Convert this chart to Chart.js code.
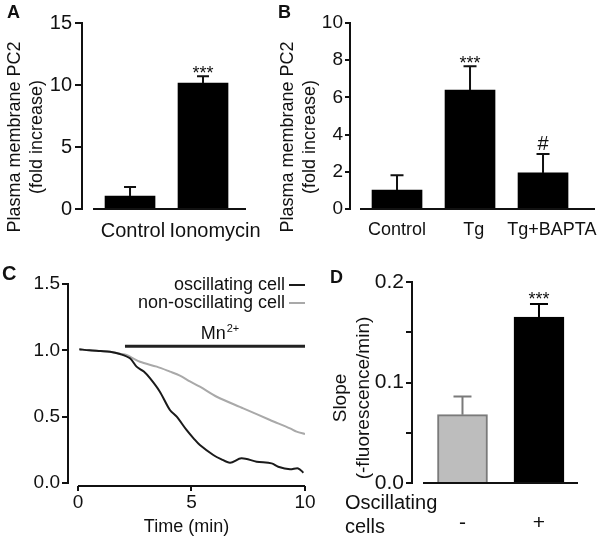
<!DOCTYPE html>
<html>
<head>
<meta charset="utf-8">
<script src="https://cdn.jsdelivr.net/npm/chart.js@4.4.1/dist/chart.umd.min.js"></script>
<style>
  html, body { margin: 0; padding: 0; background: #fff; }
  #fig { position: relative; width: 600px; height: 538px; overflow: hidden; }
  #fig canvas { position: absolute; }
</style>
</head>
<body>
<div id="fig">
  <canvas id="chartB" width="350" height="260" style="left:250px;top:0"></canvas>
  <canvas id="chartA" width="264" height="260" style="left:0;top:0"></canvas>
  <canvas id="chartC" width="330" height="278" style="left:0;top:260px"></canvas>
  <canvas id="chartD" width="270" height="278" style="left:330px;top:260px"></canvas>
</div>
<script>
// ---- valeurs ----

// A : ionomycine
const aCategories = ['Control', 'Ionomycin'];
const aValues = [1.05, 10.15];
const aErrors = [0.72, 0.55];
const aMarks = ['', '***'];
const aTicks = [0, 5, 10, 15];

// B : thapsigargine
const bCategories = ['Control', 'Tg', 'Tg+BAPTA'];
const bValues = [1.02, 6.4, 1.94];
const bErrors = [0.8, 1.28, 1.02];
const bMarks = ['', '***', '#'];
const bTicks = [0, 2, 4, 6, 8, 10];

// C : Fura-2 quench (Mn2+)
const cOscTime = [0.06, 0.5, 1.0, 1.41, 1.85, 2.29, 2.58, 2.9, 3.17, 3.6, 4.05, 4.35, 4.78, 5.1, 5.37, 5.96, 6.3, 6.7, 7.2, 7.87, 8.53, 8.82, 9.34, 9.7, 9.93];
const cOscValues = [1.008, 1.0, 0.995, 0.99, 0.972, 0.94, 0.877, 0.84, 0.79, 0.69, 0.55, 0.5, 0.4, 0.335, 0.286, 0.211, 0.18, 0.153, 0.186, 0.161, 0.148, 0.123, 0.103, 0.11, 0.078];
const cNonTime = [0.06, 0.5, 1.0, 1.41, 1.85, 2.14, 2.73, 3.47, 4.05, 4.49, 4.93, 5.37, 6.11, 7.28, 8.46, 9.34, 9.63, 10];
const cNonValues = [1.008, 1.0, 0.995, 0.99, 0.975, 0.965, 0.914, 0.877, 0.84, 0.81, 0.766, 0.726, 0.65, 0.563, 0.475, 0.412, 0.387, 0.369];
const cTicksX = [0, 5, 10];
const cTicksY = [0, 0.5, 1.0, 1.5];
const mnPeriod = [2.07, 10];   // barre Mn2+ (min)
const mnLevel = 1.03;

// D : pente
const dCategories = ['-', '+'];
const dValues = [0.068, 0.165];
const dErrors = [0.018, 0.013];
const dMarks = ['', '***'];
const dTicks = [0, 0.05, 0.1, 0.15, 0.2];

// ---- style ----
const FONT = "'Liberation Sans', Arial, Helvetica, sans-serif";
const INK = '#111';
Chart.defaults.font.family = FONT;
Chart.defaults.color = INK;

/** Dessine les éléments "Prism" : axes décalés, barres d'erreur, lettres, titres */
function figurePlugin( cfg ) {
    return {
        id: 'figure' + cfg.letter.text,

        afterDatasetsDraw( chart ) {
            if ( !cfg.errors ) return
            const ctx = chart.ctx
            const y = chart.scales.y
            const meta = chart.getDatasetMeta( 0 )
            cfg.errors.values.forEach( ( v, i ) => {
                const bar = meta.data[ i ]
                const tip = y.getPixelForValue( v + cfg.errors.sd[ i ] )
                ctx.save()
                ctx.strokeStyle = cfg.errors.colors ? cfg.errors.colors[ i ] : INK
                ctx.lineWidth = 2
                ctx.beginPath()
                ctx.moveTo( bar.x, bar.y )
                ctx.lineTo( bar.x, tip )
                ctx.moveTo( bar.x - cfg.errors.cap / 2, tip )
                ctx.lineTo( bar.x + cfg.errors.cap / 2, tip )
                ctx.stroke()
                const mark = cfg.errors.marks[ i ]
                if ( mark ) {
                    const m = cfg.errors.markFont[ mark ] || cfg.errors.markFont.def
                    ctx.font = m.size + 'px ' + FONT
                    ctx.fillStyle = INK
                    ctx.textAlign = 'center'
                    ctx.textBaseline = 'alphabetic'
                    const tm = ctx.measureText( mark )
                    ctx.fillText( mark, bar.x, tip - m.gap - tm.actualBoundingBoxDescent )
                }
                ctx.restore()
            } )
        },

        afterDraw( chart ) {
            const { ctx, chartArea } = chart
            const x = chart.scales.x, y = chart.scales.y
            ctx.save()
            // axes
            ctx.strokeStyle = INK
            ctx.lineWidth = 2
            ctx.beginPath()
            ctx.moveTo( chartArea.left, y.getPixelForValue( cfg.axis.y[ 0 ] ) + 1 )
            ctx.lineTo( chartArea.left, y.getPixelForValue( cfg.axis.y[ 1 ] ) - 1 )
            ctx.moveTo( x.getPixelForValue( cfg.axis.x[ 0 ] ), chartArea.bottom )
            ctx.lineTo( x.getPixelForValue( cfg.axis.x[ 1 ] ), chartArea.bottom )
            ctx.stroke()

            // lettre du panneau
            ctx.fillStyle = INK
            ctx.textAlign = 'left'
            ctx.textBaseline = 'alphabetic'
            ctx.font = 'bold ' + cfg.letter.size + 'px ' + FONT
            ctx.fillText( cfg.letter.text, cfg.letter.x, cfg.letter.y )

            // titre de l'axe y (vertical, 1 ou 2 lignes)
            ctx.font = cfg.yTitle.size + 'px ' + FONT
            ctx.textAlign = 'center'
            ctx.textBaseline = 'middle'
            cfg.yTitle.lines.forEach( ( line, i ) => {
                ctx.save()
                ctx.translate( cfg.yTitle.xs[ i ], cfg.yTitle.y )
                ctx.rotate( -Math.PI / 2 )
                ctx.fillText( line, 0, 0 )
                ctx.restore()
            } )

            // textes libres
            if ( cfg.texts ) {
                cfg.texts.forEach( t => {
                    ctx.font = t.size + 'px ' + FONT
                    ctx.textAlign = t.align || 'left'
                    ctx.textBaseline = 'alphabetic'
                    ctx.fillText( t.text, t.x, t.y )
                } )
            }
            if ( cfg.extra ) cfg.extra( chart, ctx )
            ctx.restore()
        }
    }
}

/** Options communes d'un histogramme */
function barOptions( p ) {
    const shift = p.labelShift || p.categories.map( () => 0 )
    return {
        responsive: false,
        animation: false,
        events: [],
        layout: { padding: { top: p.top, right: p.right, left: 0, bottom: 0 } },
        plugins: { legend: { display: false }, tooltip: { enabled: false } },
        scales: {
            x: {
                type: 'linear',
                bounds: 'data',
                offset: false,
                min: p.xMin,
                max: p.xMax,
                // une étiquette par catégorie (légèrement décalée comme sur l'original)
                afterBuildTicks: s => { s.ticks = p.categories.map( ( c, i ) => ( { value: i + shift[ i ] } ) ) },
                afterFit: s => { s.height = p.xHeight; s.paddingLeft = 0; s.paddingRight = 0 },
                grid: { display: false, drawTicks: false, offset: false },
                border: { display: false },
                ticks: {
                    autoSkip: false,
                    maxRotation: 0,
                    padding: p.xPad,
                    font: { size: p.xFont },
                    callback: ( v, i ) => p.categories[ i ] ?? ''
                }
            },
            y: {
                min: p.yTicks[ 0 ],
                max: p.yTicks[ p.yTicks.length - 1 ],
                afterBuildTicks: s => { s.ticks = p.yTicks.map( v => ( { value: v } ) ) },
                afterFit: s => { s.width = p.yWidth },
                grid: { drawOnChartArea: false, drawTicks: true, tickLength: p.tick, color: INK, lineWidth: 2 },
                border: { display: false },
                ticks: { padding: p.yPad, font: { size: p.yFont }, callback: p.yLabel || ( v => String( v ) ) }
            }
        }
    }
}

// ---------- A ----------
new Chart( document.getElementById( 'chartA' ), {
    type: 'bar',
    data: {
        datasets: [ {
            data: aValues.map( ( v, i ) => ( { x: i, y: v } ) ),
            backgroundColor: '#000', borderColor: '#000', borderWidth: 0, barThickness: 50
        } ]
    },
    options: barOptions( {
        top: 23, right: 18, xMin: -0.658, xMax: 1.589, categories: aCategories,
        labelShift: [ 0.04, 0.165 ],
        xHeight: 51, xPad: 10, xFont: 20,
        yTicks: aTicks, yWidth: 82, tick: 7, yPad: 3, yFont: 20
    } ),
    plugins: [ figurePlugin( {
        letter: { text: 'A', x: 7, y: 18, size: 18 },
        yTitle: { lines: [ 'Plasma membrane PC2', '(fold increase)' ], xs: [ 15, 37 ], y: 137, size: 18 },
        axis: { x: [ -0.507, 1.589 ], y: [ 0, 15 ] },
        errors: { values: aValues, sd: aErrors, marks: aMarks, cap: 12, markFont: { def: { size: 18, gap: 3 } } }
    } ) ]
} );

// ---------- B ----------
new Chart( document.getElementById( 'chartB' ), {
    type: 'bar',
    data: {
        datasets: [ {
            data: bValues.map( ( v, i ) => ( { x: i, y: v } ) ),
            backgroundColor: '#000', borderColor: '#000', borderWidth: 0, barThickness: 50
        } ]
    },
    options: barOptions( {
        top: 23, right: 5, xMin: -0.644, xMax: 2.712, categories: bCategories,
        labelShift: [ 0, 0.05, 0.12 ],
        xHeight: 51, xPad: 10, xFont: 18,
        yTicks: bTicks, yWidth: 100, tick: 5, yPad: 2, yFont: 19
    } ),
    plugins: [ figurePlugin( {
        letter: { text: 'B', x: 28, y: 18, size: 18 },
        yTitle: { lines: [ 'Plasma membrane PC2', '(fold increase)' ], xs: [ 38, 60 ], y: 137, size: 18 },
        axis: { x: [ -0.507, 2.712 ], y: [ 0, 10 ] },
        errors: {
            values: bValues, sd: bErrors, marks: bMarks, cap: 13,
            markFont: { def: { size: 18, gap: 3 }, '#': { size: 20, gap: 4 } }
        }
    } ) ]
} );

// ---------- C ----------
new Chart( document.getElementById( 'chartC' ), {
    type: 'line',
    data: {
        datasets: [
            {
                label: 'oscillating cell',
                data: cOscTime.map( ( t, i ) => ( { x: t, y: cOscValues[ i ] } ) ),
                borderColor: '#1a1a1a', borderWidth: 2, pointRadius: 0, tension: 0.3, fill: false
            },
            {
                label: 'non-oscillating cell',
                data: cNonTime.map( ( t, i ) => ( { x: t, y: cNonValues[ i ] } ) ),
                borderColor: '#a9a9a9', borderWidth: 2, pointRadius: 0, tension: 0.3, fill: false
            }
        ]
    },
    options: {
        responsive: false,
        animation: false,
        events: [],
        layout: { padding: { top: 24, right: 25, left: 0, bottom: 0 } },
        plugins: { legend: { display: false }, tooltip: { enabled: false } },
        scales: {
            x: {
                type: 'linear', bounds: 'data', min: -0.44, max: 10,
                afterBuildTicks: s => { s.ticks = cTicksX.map( v => ( { value: v } ) ) },
                afterFit: s => { s.height = 52; s.paddingLeft = 0; s.paddingRight = 0 },
                grid: { drawOnChartArea: false, drawTicks: true, tickLength: 5, color: INK, lineWidth: 2 },
                border: { display: false },
                ticks: { padding: 0, maxRotation: 0, font: { size: 19 } },
                title: { display: true, text: 'Time (min)', font: { size: 18 }, padding: { top: 0, bottom: 0 } }
            },
            y: {
                type: 'linear', bounds: 'data', min: -0.0226, max: 1.5,
                afterBuildTicks: s => { s.ticks = cTicksY.map( v => ( { value: v } ) ) },
                afterFit: s => { s.width = 68 },
                grid: { drawOnChartArea: false, drawTicks: true, tickLength: 6, color: INK, lineWidth: 2 },
                border: { display: false },
                ticks: { padding: 2, font: { size: 19 }, callback: v => v.toFixed( 1 ) }
            }
        }
    },
    plugins: [ figurePlugin( {
        letter: { text: 'C', x: 2, y: 20, size: 20 },
        yTitle: { lines: [ 'Fura-2  (ratio 340/360)' ], xs: [ 15 ], y: 389, size: 19 },
        axis: { x: [ 0, 10 ], y: [ 0, 1.5 ] },
        extra: ( chart, ctx ) => {
            const x = chart.scales.x, y = chart.scales.y
            // légende : texte puis trait à droite
            chart.data.datasets.forEach( ( ds, i ) => {
                const ly = 25 + i * 18
                ctx.font = '18px ' + FONT
                ctx.fillStyle = INK
                ctx.textAlign = 'right'
                ctx.textBaseline = 'middle'
                ctx.fillText( ds.label, 285, ly )
                ctx.strokeStyle = ds.borderColor
                ctx.lineWidth = 2
                ctx.beginPath()
                ctx.moveTo( 289, ly )
                ctx.lineTo( 305, ly )
                ctx.stroke()
            } )
            // barre d'application du Mn2+
            const yy = y.getPixelForValue( mnLevel )
            ctx.strokeStyle = '#222'
            ctx.lineWidth = 3
            ctx.beginPath()
            ctx.moveTo( x.getPixelForValue( mnPeriod[ 0 ] ), yy )
            ctx.lineTo( x.getPixelForValue( mnPeriod[ 1 ] ), yy )
            ctx.stroke()
            ctx.fillStyle = INK
            ctx.textAlign = 'left'
            ctx.textBaseline = 'alphabetic'
            ctx.font = '18px ' + FONT
            const cx = x.getPixelForValue( 6.23 )
            const w1 = ctx.measureText( 'Mn' ).width
            ctx.font = '11px ' + FONT
            const w2 = ctx.measureText( '2+' ).width
            const x0 = cx - ( w1 + w2 ) / 2
            ctx.font = '18px ' + FONT
            ctx.fillText( 'Mn', x0, yy - 7 )
            ctx.font = '11px ' + FONT
            ctx.fillText( '2+', x0 + w1 + 1, yy - 14 )
        }
    } ) ]
} );

// ---------- D ----------
new Chart( document.getElementById( 'chartD' ), {
    type: 'bar',
    data: {
        datasets: [ {
            data: dValues.map( ( v, i ) => ( { x: i, y: v } ) ),
            backgroundColor: [ '#bdbdbd', '#000' ],
            borderColor: [ '#7a7a7a', '#000' ],
            borderWidth: 2, borderSkipped: 'bottom', barThickness: 50
        } ]
    },
    options: barOptions( {
        top: 22, right: 22, xMin: -0.66, xMax: 1.51, categories: dCategories,
        xHeight: 55, xPad: 28, xFont: 21,
        yTicks: dTicks, yWidth: 82, tick: 6, yPad: 2, yFont: 21,
        yLabel: v => ( Math.abs( v * 10 - Math.round( v * 10 ) ) < 1e-6 ? v.toFixed( 1 ) : '' )
    } ),
    plugins: [ figurePlugin( {
        letter: { text: 'D', x: 0, y: 23, size: 18 },
        yTitle: { lines: [ 'Slope', '(-fluorescence/min)' ], xs: [ 11, 34 ], y: 138, size: 19 },
        axis: { x: [ -0.516, 1.51 ], y: [ 0, 0.2 ] },
        errors: {
            values: dValues, sd: dErrors, marks: dMarks, cap: 18, colors: [ '#7a7a7a', '#000' ],
            markFont: { def: { size: 18, gap: 5 } }
        },
        texts: [
            { text: 'Oscillating', x: 15, y: 249, size: 20 },
            { text: 'cells', x: 15, y: 273, size: 20 }
        ]
    } ) ]
} );
</script>
</body>
</html>
